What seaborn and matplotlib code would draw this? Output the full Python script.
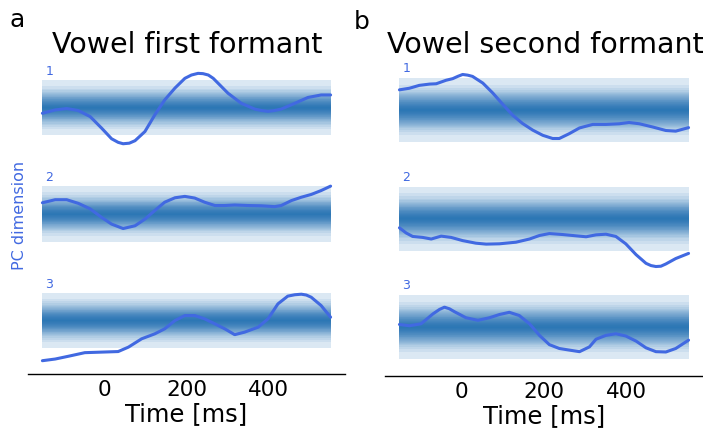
import math
import numpy as np
import matplotlib
matplotlib.use("Agg")
import matplotlib.pyplot as plt
import seaborn as sns

sns.set_style("white")
plt.rcParams['font.family'] = ['DejaVu Sans']
plt.rcParams['text.color'] = 'black'
plt.rcParams['axes.labelcolor'] = 'black'
plt.rcParams['xtick.color'] = 'black'

# ---------------- data (time in ms, values in units of band half-width) ----
band_t = [-150, 550]

a1_t = [-150, -119, -91, -63, -34, -6, 18, 34, 46, 61, 75, 99, 123, 147, 172, 196, 212, 228, 240, 253, 265, 277, 301, 333, 366, 382, 398, 414, 430, 463, 495, 527, 550]
a1_v = [-0.20, -0.08, -0.03, -0.10, -0.32, -0.74, -1.12, -1.25, -1.30, -1.28, -1.19, -0.86, -0.26, 0.28, 0.71, 1.06, 1.18, 1.24, 1.23, 1.18, 1.06, 0.88, 0.52, 0.16, -0.05, -0.10, -0.13, -0.10, -0.05, 0.16, 0.37, 0.46, 0.46]

a2_t = [-150, -119, -91, -63, -34, -6, 18, 46, 75, 99, 123, 147, 172, 196, 220, 244, 269, 293, 317, 350, 382, 414, 430, 455, 479, 503, 527, 550]
a2_v = [0.41, 0.52, 0.52, 0.39, 0.19, -0.12, -0.36, -0.52, -0.42, -0.18, 0.13, 0.43, 0.59, 0.64, 0.58, 0.43, 0.31, 0.31, 0.33, 0.31, 0.30, 0.27, 0.31, 0.49, 0.61, 0.71, 0.85, 1.01]

a3_t = [-150, -119, -87, -47, -6, 34, 59, 91, 123, 147, 172, 196, 220, 244, 269, 293, 317, 341, 374, 398, 422, 446, 463, 479, 491, 503, 527, 550]
a3_v = [-1.45, -1.39, -1.29, -1.16, -1.14, -1.12, -0.96, -0.66, -0.48, -0.30, 0.00, 0.18, 0.18, 0.06, -0.12, -0.30, -0.51, -0.42, -0.24, 0.06, 0.60, 0.88, 0.93, 0.95, 0.92, 0.84, 0.54, 0.12]

b1_t = [-150, -126, -102, -77, -61, -37, -21, -9, 3, 15, 27, 52, 76, 100, 124, 148, 173, 197, 221, 237, 261, 286, 318, 350, 382, 406, 431, 463, 495, 519, 550]
b1_v = [0.63, 0.68, 0.77, 0.81, 0.82, 0.93, 0.98, 1.05, 1.11, 1.09, 1.05, 0.84, 0.53, 0.18, -0.16, -0.42, -0.63, -0.79, -0.89, -0.89, -0.74, -0.56, -0.45, -0.45, -0.43, -0.39, -0.43, -0.53, -0.64, -0.66, -0.55]

b2_t = [-150, -134, -118, -94, -73, -49, -25, 3, 35, 60, 92, 132, 165, 189, 213, 245, 277, 302, 326, 350, 374, 398, 423, 447, 459, 471, 483, 495, 519, 550]
b2_v = [-0.29, -0.45, -0.56, -0.59, -0.64, -0.55, -0.59, -0.69, -0.77, -0.80, -0.79, -0.74, -0.64, -0.53, -0.47, -0.50, -0.54, -0.57, -0.51, -0.49, -0.56, -0.79, -1.13, -1.40, -1.47, -1.50, -1.49, -1.42, -1.25, -1.09]

b3_t = [-150, -126, -98, -81, -69, -53, -41, -29, -17, 11, 40, 68, 92, 116, 140, 165, 189, 213, 237, 261, 286, 310, 326, 350, 374, 398, 423, 447, 471, 495, 519, 550]
b3_v = [0.08, 0.04, 0.10, 0.28, 0.41, 0.55, 0.62, 0.57, 0.48, 0.29, 0.21, 0.29, 0.39, 0.46, 0.36, 0.10, -0.26, -0.55, -0.67, -0.72, -0.77, -0.62, -0.38, -0.26, -0.21, -0.28, -0.44, -0.65, -0.77, -0.78, -0.67, -0.41]

panel_titles = ["Vowel first formant", "Vowel second formant"]
panel_letters = ["a", "b"]
row_labels = ["1", "2", "3"]
xticks = [0, 200, 400]
xlabel = "Time [ms]"
ylabel = "PC dimension"

panels = [
    [(a1_t, a1_v), (a2_t, a2_v), (a3_t, a3_v)],
    [(b1_t, b1_v), (b2_t, b2_v), (b3_t, b3_v)],
]

# ---------------- style / layout ----------------
W, H = 703, 430
fig = plt.figure(figsize=(W / 100, H / 100), dpi=100)

line_color = "royalblue"
band_color = "#2171b5"

# nested central-quantile bands of a normal null distribution (style only)
zgrid = np.linspace(0, 4, 4001)
cdf = np.array([0.5 * (1 + math.erf(z / math.sqrt(2))) for z in zgrid])
n_layers = 30
coverages = 0.99 * (1 - np.arange(n_layers) / n_layers)
zq = np.interp((1 + coverages) / 2, cdf, zgrid)
band_fracs = zq / zq[0]
band_alphas = [0.16] + [0.078] * (n_layers - 1)

layouts = [
    dict(l=28, r=345, top=62, bot=374, gap=3.84, ylim=(-9.61, 1.65), title_x=187, letter=(17, 20)),
    dict(l=385, r=703, top=62, bot=376, gap=3.39, ylim=(-8.31, 1.50), title_x=545, letter=(362, 22)),
]

for p, (rows, lay) in enumerate(zip(panels, layouts)):
    ax = fig.add_axes([lay["l"] / W, 1 - lay["bot"] / H,
                       (lay["r"] - lay["l"]) / W, (lay["bot"] - lay["top"]) / H])
    for k, (t, v) in enumerate(rows):
        off = -lay["gap"] * k
        for f, a in zip(band_fracs, band_alphas):
            ax.fill_between(band_t, off - f, off + f, color=band_color,
                            alpha=a, linewidth=0)
        sns.lineplot(x=np.array(t), y=np.array(v) + off, ax=ax,
                     color=line_color, linewidth=2.2, estimator=None, sort=False)
        ax.text(-143, off + 1.08, row_labels[k], color=line_color,
                fontsize=9, ha="left", va="bottom")
    ax.set_ylim(*lay["ylim"])
    ax.set_xlim(-185, 585)
    ax.set_xticks(xticks)
    ax.set_yticks([])
    ax.tick_params(axis="x", length=0, pad=4, labelsize=15.5)
    for s in ["top", "right", "left"]:
        ax.spines[s].set_visible(False)
    ax.spines["bottom"].set_color("black")
    ax.spines["bottom"].set_linewidth(1.0)
    ax.set_xlabel(xlabel, fontsize=17.5, labelpad=1.5)
    ax.set_ylabel("")
    fig.text(lay["title_x"] / W, 1 - 45 / H, panel_titles[p], fontsize=20.5,
             ha="center", va="center")
    lx, ly = lay["letter"]
    fig.text(lx / W, 1 - ly / H, panel_letters[p], fontsize=18,
             ha="center", va="center")

fig.text(20 / W, 1 - 215 / H, ylabel, rotation=90, color=line_color,
         fontsize=11.5, ha="center", va="center")

fig.savefig("out.png", dpi=100)
